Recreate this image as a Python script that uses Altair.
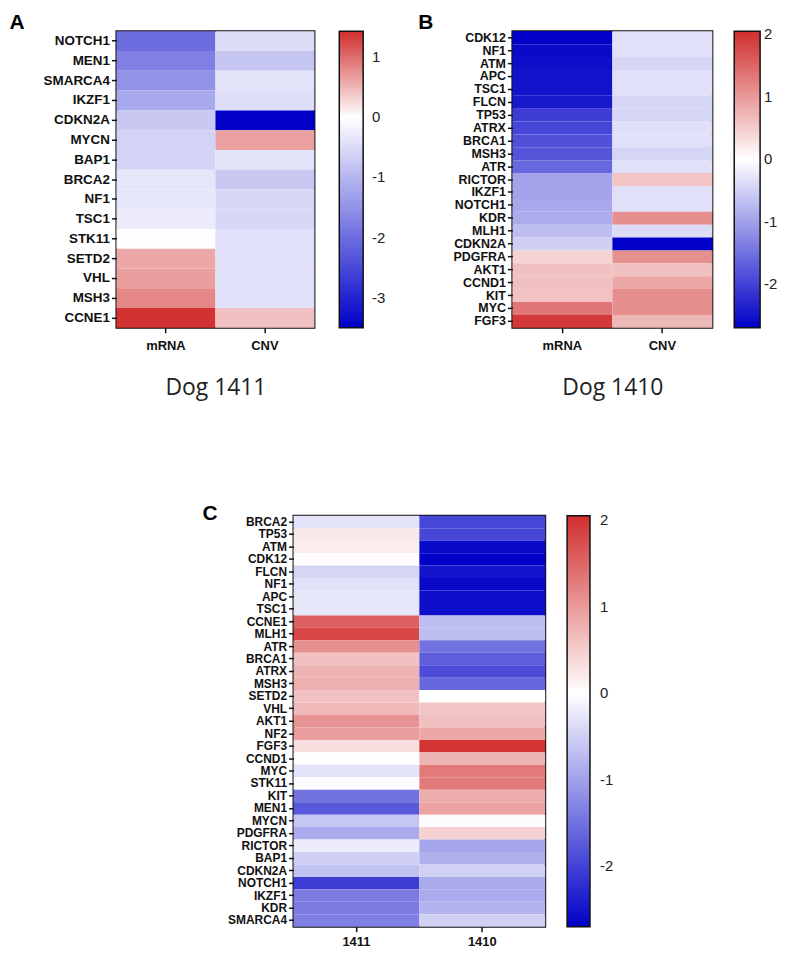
import altair as alt
import pandas as pd

# ---------------- data ----------------
A_genes = ["NOTCH1", "MEN1", "SMARCA4", "IKZF1", "CDKN2A", "MYCN", "BAP1", "BRCA2",
           "NF1", "TSC1", "STK11", "SETD2", "VHL", "MSH3", "CCNE1"]
A_cols = ["mRNA", "CNV"]
A_mrna = [-2.0, -1.75, -1.5, -1.2, -0.75, -0.6, -0.6, -0.35, -0.35, -0.28, -0.02, 0.6, 0.66, 0.82, 1.4]
A_cnv = [-0.48, -0.8, -0.4, -0.45, -3.5, 0.65, -0.4, -0.75, -0.55, -0.55, -0.42, -0.42, -0.42, -0.42, 0.43]
A_domain = [-3.5, 0, 1.43]
A_ticks = [1, 0, -1, -2, -3]

B_genes = ["CDK12", "NF1", "ATM", "APC", "TSC1", "FLCN", "TP53", "ATRX", "BRCA1", "MSH3",
           "ATR", "RICTOR", "IKZF1", "NOTCH1", "KDR", "MLH1", "CDKN2A", "PDGFRA", "AKT1",
           "CCND1", "KIT", "MYC", "FGF3"]
B_cols = ["mRNA", "CNV"]
B_mrna = [-2.7, -2.6, -2.55, -2.5, -2.5, -2.45, -2.05, -1.95, -1.85, -1.8, -1.6, -0.97, -0.97,
          -0.92, -0.88, -0.7, -0.5, 0.43, 0.62, 0.62, 0.6, 1.34, 1.95]
B_cnv = [-0.33, -0.33, -0.45, -0.33, -0.33, -0.45, -0.45, -0.33, -0.33, -0.45, -0.33, 0.58, -0.33,
         -0.33, 1.1, -0.38, -2.7, 1.1, 0.62, 0.86, 1.1, 1.1, 0.7]
B_domain = [-2.7, 0, 2.05]
B_ticks = [2, 1, 0, -1, -2]

C_genes = ["BRCA2", "TP53", "ATM", "CDK12", "FLCN", "NF1", "APC", "TSC1", "CCNE1", "MLH1",
           "ATR", "BRCA1", "ATRX", "MSH3", "SETD2", "VHL", "AKT1", "NF2", "FGF3", "CCND1",
           "MYC", "STK11", "KIT", "MEN1", "MYCN", "PDGFRA", "RICTOR", "BAP1", "CDKN2A",
           "NOTCH1", "IKZF1", "KDR", "SMARCA4"]
C_cols = ["1411", "1410"]
C_1411 = [-0.3, 0.23, 0.18, 0.02, -0.45, -0.33, -0.25, -0.25, 1.58, 1.8, 1.1, 0.62, 0.74, 0.78,
          0.62, 0.68, 1.06, 0.95, 0.31, 0.01, -0.3, -0.02, -1.5, -1.77, -0.6, -0.9, -0.2, -0.5,
          -0.65, -2.05, -1.4, -1.4, -1.35]
C_1410 = [-1.95, -1.95, -2.6, -2.7, -2.5, -2.6, -2.55, -2.55, -0.7, -0.7, -1.5, -1.7, -1.9, -1.6,
          0.0, 0.55, 0.62, 0.86, 2.0, 0.74, 1.3, 1.3, 0.8, 0.9, -0.03, 0.45, -0.95, -0.85, -0.5,
          -0.9, -0.9, -0.8, -0.5]
C_domain = [-2.7, 0, 2.05]
C_ticks = [2, 1, 0, -1, -2]

BLUE, WHITE, RED = "#0000c8", "#ffffff", "#d12e2e"
LABEL_FONT = "Liberation Sans"
TITLE_FONT = "Open Sans"


def long_df(genes, cols, series):
    rows = []
    for c, vals in zip(cols, series):
        for g, v in zip(genes, vals):
            rows.append({"gene": g, "col": c, "value": v})
    return pd.DataFrame(rows)


def panel(df, genes, cols, domain, ticks, w, h, y_extent, x_title, letter, lx, ly,
          leg_offset, leg_thick, leg_label_offset, label_size, x_label_pad):
    if x_title:
        xaxis = alt.Axis(title=x_title, labelAngle=0, titleFont=TITLE_FONT, titleFontSize=23,
                         titleFontWeight="normal", titleColor="#222", titlePadding=24,
                         labelPadding=x_label_pad, labelFontSize=13)
    else:
        xaxis = alt.Axis(title=None, labelAngle=0, labelPadding=x_label_pad, labelFontSize=13)
    return alt.Chart(df).mark_rect().encode(
        x=alt.X("col:N", sort=cols, scale=alt.Scale(paddingInner=0, paddingOuter=0), axis=xaxis),
        y=alt.Y("gene:N", sort=genes, scale=alt.Scale(paddingInner=0, paddingOuter=0),
                axis=alt.Axis(title=letter, titleAngle=0, titleX=lx, titleY=ly,
                              titleAlign="left", titleBaseline="alphabetic",
                              titleFont=LABEL_FONT, titleFontSize=21, titleFontWeight="bold",
                              titleColor="#000", minExtent=y_extent, labelOverlap=False,
                              labelFontSize=label_size, labelPadding=2)),
        color=alt.Color("value:Q",
                        scale=alt.Scale(domain=domain, range=[BLUE, WHITE, RED],
                                        interpolate="rgb", clamp=True),
                        legend=alt.Legend(title=None, values=ticks, gradientLength=h,
                                          gradientThickness=leg_thick, offset=leg_offset,
                                          labelOffset=leg_label_offset, labelFontSize=15,
                                          labelFont=LABEL_FONT, labelColor="#222",
                                          labelExpr="datum.value",
                                          gradientStrokeColor="#111", gradientStrokeWidth=1.5,
                                          padding=0)),
    ).properties(width=w, height=h)


chart_a = panel(long_df(A_genes, A_cols, [A_mrna, A_cnv]), A_genes, A_cols, A_domain, A_ticks,
                199, 298, 108, "Dog 1411", "A", -108, -3, 25, 24, 9, 13.5, 7)
chart_b = panel(long_df(B_genes, B_cols, [B_mrna, B_cnv]), B_genes, B_cols, B_domain, B_ticks,
                201, 298, 100, "Dog 1410", "B", -95, -3, 22, 26, 4, 12.5, 7)
chart_c = panel(long_df(C_genes, C_cols, [C_1411, C_1410]), C_genes, C_cols, C_domain, C_ticks,
                253, 413, 100, None, "C", -92, 4, 22, 23, 10, 12, 4)

# invisible spacer that pushes panel C to the right
spacer = alt.Chart(pd.DataFrame({"v": [0]})).mark_point(opacity=0).encode(
    x=alt.value(0), y=alt.value(0)
).properties(width=76, height=10, view=alt.ViewBackground(stroke="transparent"))

top = alt.hconcat(chart_a, chart_b, spacing=25).resolve_scale(color="independent")
bottom = alt.hconcat(spacer, chart_c, spacing=0).resolve_scale(color="independent")
chart = alt.vconcat(top, bottom, spacing=102).resolve_scale(
    color="independent"
).properties(
    padding={"left": 0, "top": 0, "right": 0, "bottom": 0}
).configure_view(
    stroke="#111", strokeWidth=2
).configure_axis(
    domain=False, tickColor="#111", tickWidth=1.5, tickSize=5,
    labelFont=LABEL_FONT, labelFontWeight="bold", labelColor="#111", grid=False
)

chart.save("out.html", embed_options={"renderer": "svg", "actions": False})
